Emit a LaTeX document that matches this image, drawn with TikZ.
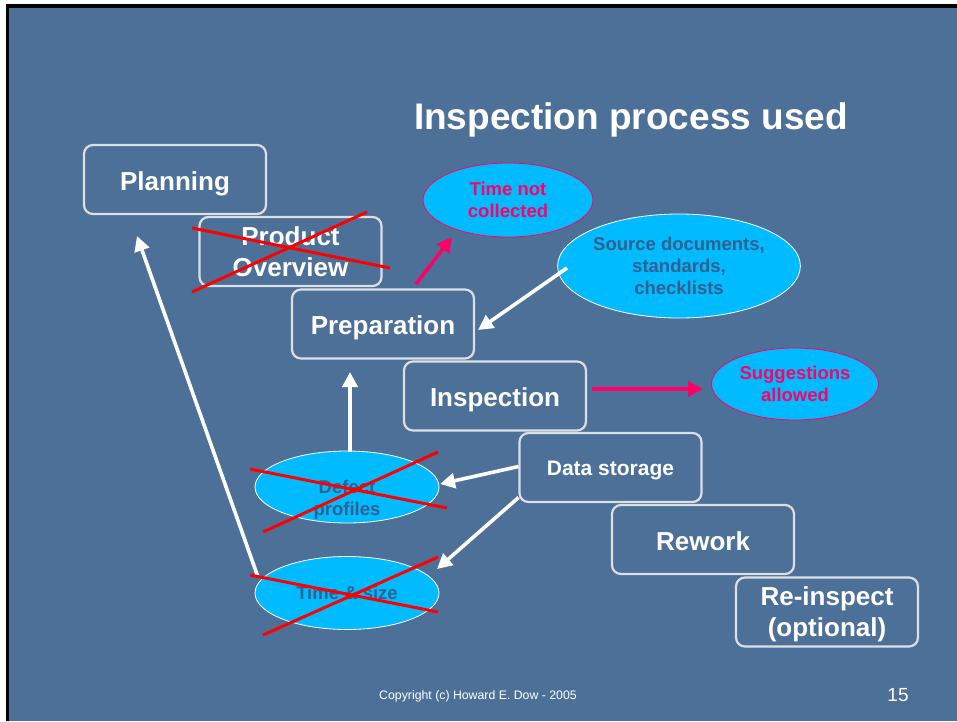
\documentclass[tikz,border=0pt]{standalone}
\usepackage{fontspec}
\setmainfont{Liberation Sans}
\usetikzlibrary{arrows.meta,shapes.geometric}
\definecolor{slide}{HTML}{4D7099}
\definecolor{boxline}{HTML}{DCDFE4}
\definecolor{bubble}{HTML}{00BBFF}
\definecolor{bubbletext}{HTML}{34608F}
\definecolor{hotpink}{HTML}{FF0066}
\begin{document}
\begin{tikzpicture}[x=1pt,y=-1pt,
    stage/.style={draw=boxline,line width=2.2pt,rounded corners=9pt,minimum width=182pt,minimum height=69pt,
      inner sep=0pt,text=white,align=center,text depth=0pt,font=\fontsize{26}{31}\selectfont\bfseries},
    oneline/.style={text height=21pt},
    bubbletext/.style={align=center,text=bubbletext,font=\fontsize{18.5}{22}\selectfont\bfseries},
    bubble/.style={ellipse,fill=bubble,draw=white,line width=0.8pt,inner sep=0pt,bubbletext},
    note/.style={bubble,draw=hotpink,text=hotpink},
    flow/.style={line width=3.6pt,-{Triangle[length=15pt,width=15pt]}},
    cross/.style={red,line width=3pt}]
	\useasboundingbox (0,0) rectangle (957,721);
	\fill[white] (0,0) rectangle (957,721);
	\fill[black] (6,4) rectangle (957,721);
	\fill[slide] (9,8) rectangle (957,721);
	% title
	\node[text=white,font=\fontsize{37}{40}\selectfont\bfseries] (title) at (631,120) {Inspection process used};
	% the stages, as a staircase
	\node[stage,oneline] (plan) at (175,179.5) {Planning};
	\node[stage] (overview) at (290.5,251.5) {Product\\Overview};
	\node[stage,oneline] (prep) at (383,324) {Preparation};
	\node[stage,oneline] (insp) at (495,396) {Inspection};
	\node[stage,oneline,font=\fontsize{21}{25}\selectfont\bfseries,text height=16pt] (store) at (610.5,467.5) {Data storage};
	\node[stage,oneline] (rework) at (703,539.5) {Rework};
	\node[stage] (reinsp) at (827,612) {Re-inspect\\(optional)};
	% bubbles
	\node[note,minimum width=170pt,minimum height=74pt] (notime) at (508,200) {Time not\\collected};
	\node[bubble,minimum width=224pt,minimum height=104pt] (sources) at (679,266) {Source documents,\\standards,\\checklists};
	\node[note,minimum width=167pt,minimum height=72pt] (suggest) at (795,384) {Suggestions\\allowed};
	\node[bubble,minimum width=184pt,minimum height=72pt,
	  label={[bubbletext,yshift=-13pt]center:Defect\\profiles}] (defects) at (347,487) {};
	\node[bubble,minimum width=184pt,minimum height=73pt] (timesize) at (347,593) {Time \& size};
	% arrows
	\draw[flow,hotpink] ([shift={(33,-40)}]prep.center) -- ([shift={(-56,37)}]notime.center);
	\draw[flow,white] ([shift={(-112,2)}]sources.center) -- ([shift={(95,6)}]prep.center);
	\draw[flow,hotpink] ([shift={(97,-7)}]insp.center) -- ([shift={(-92,5)}]suggest.center);
	\draw[flow,white] ([shift={(-92,-1)}]store.center) -- ([shift={(93,-3)}]defects.center);
	\draw[flow,white] ([shift={(-92,30)}]store.center) -- ([shift={(90,-24)}]timesize.center);
	\draw[flow,white] ([shift={(3,-35)}]defects.center) -- ([shift={(-33,48)}]prep.center);
	\draw[flow,white] ([shift={(-89,-16)}]timesize.center) -- ([shift={(-38,56.5)}]plan.center);
	% crossed out
	\draw[cross] (192,228) -- (390,268);
	\draw[cross] (192,292) -- (367,212);
	\draw[cross] (250,469) -- (447,508);
	\draw[cross] (263,532) -- (438,452);
	\draw[cross] (250,575) -- (438,612);
	\draw[cross] (263,635) -- (438,557);
	% footer
	\node[text=white,font=\fontsize{12.3}{14}\selectfont] (copy) at (478,696) {Copyright (c) Howard E. Dow - 2005};
	\node[text=white,font=\fontsize{19}{21}\selectfont] (page) at (898,695) {15};
\end{tikzpicture}
\end{document}
